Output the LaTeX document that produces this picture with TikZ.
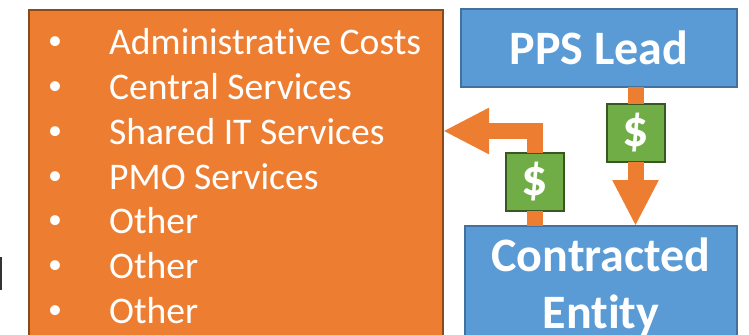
\documentclass[tikz,border=0pt]{standalone}
\usepackage{fontspec}
\setmainfont[Ligatures=NoCommon]{Carlito}
\usetikzlibrary{arrows.meta}
\definecolor{costorange}{HTML}{ED7D31}
\definecolor{costedge}{HTML}{8A4A1A}
\definecolor{leadblue}{HTML}{5B9BD5}
\definecolor{leadedge}{HTML}{41719C}
\definecolor{dollargreen}{HTML}{70AD47}
\definecolor{dollaredge}{HTML}{385723}
\tikzset{
	costbox/.style={draw=costedge, fill=costorange, line width=2bp, outer sep=0pt, inner sep=0pt, anchor=north west},
	entitybox/.style={draw=leadedge, fill=leadblue, line width=2bp, outer sep=0pt, inner sep=0pt, anchor=north west, text=white, align=center, font=\fontsize{48bp}{57bp}\selectfont\bfseries},
	dollarbox/.style={draw=dollaredge, fill=dollargreen, line width=2bp, outer sep=0pt, inner sep=0pt, minimum width=58bp, minimum height=58bp, text=white, font=\fontsize{52bp}{52bp}\selectfont\bfseries},
	itemtext/.style={anchor=base west, inner sep=0pt, text=white, font=\fontsize{37.6bp}{37.6bp}\selectfont},
	dottext/.style={anchor=base, inner sep=0pt, text=white, font=\fontsize{28bp}{28bp}\selectfont},
	flow/.style={draw=costorange, line width=16bp},
	flowtip/.style={flow, -{Triangle[length=46bp, width=43bp]}}
}
\begin{document}
\begin{tikzpicture}[x=1bp, y=-1bp]
		%%%%% START %%%%%
		
		\useasboundingbox (0, 0) rectangle (749, 334);
		\clip (0, 0) rectangle (749, 334);
		
		\fill[black!80] (0, 257) rectangle (1.5, 290);
		
		\node[costbox, minimum width=414bp, minimum height=340bp] (cost) at (29, 10) {};
		\foreach \n/\y/\t in {1/54.5/Administrative Costs, 2/99.5/Central Services, 3/144.5/Shared IT Services, 4/189.5/PMO Services, 5/233.5/Other, 6/278.5/Other, 7/323.5/Other}{
			\node[dottext] (dot\n) at (55, \y-5.5) {•};
			\node[itemtext] (item\n) at (109, \y) {\t};
		}
		
		\node[entitybox, minimum width=276bp, minimum height=78bp] (lead) at (461, 9) {PPS Lead};
		\node[entitybox, minimum width=272bp, minimum height=122bp] (contracted) at (465, 226) {Contracted\\Entity};
		
		\node[dollarbox] (dollarA) at (635.5, 133) {\$};
		\node[dollarbox] (dollarB) at (535, 182) {\$};
		\coordinate (costin) at (443, 131);
		
		\draw[flow] (lead.south -| dollarA) -- (dollarA.north);
		\draw[flowtip] (dollarA.south) -- (dollarA.south |- contracted.north);
		\draw[flow] (contracted.north -| dollarB) -- (dollarB.south);
		\draw[flowtip] (dollarB.north) |- (costin);
		
		%%%%% END %%%%%
	\end{tikzpicture}
\end{document}
